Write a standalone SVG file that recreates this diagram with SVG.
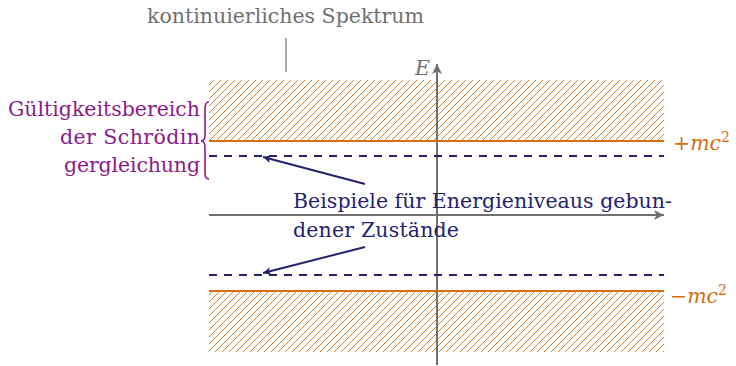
<svg xmlns="http://www.w3.org/2000/svg" width="736" height="366" viewBox="0 0 736 366">
<defs>
<style>
.t{font-family:"DejaVu Serif","Liberation Serif",serif;font-size:20.5px}
.gray{fill:#707070}
.pur{fill:#8b1a8b}
.navy{fill:#23236e}
.or{fill:#d4700f}
.ol{stroke:#d4700f;stroke-width:2;fill:none}
.dl{stroke:#23236e;stroke-width:2;stroke-dasharray:8 7;fill:none}
.ax{stroke:#707070;stroke-width:2;fill:none}
.ar{stroke:#23236e;stroke-width:2;fill:none}
</style>
<pattern id="hatch" patternUnits="userSpaceOnUse" width="7" height="7">
<path d="M-1,1 L1,-1 M0,7 L7,0 M6,8 L8,6" stroke="#d4700f" stroke-width="0.9"/>
</pattern>
<marker id="ah" markerWidth="10" markerHeight="10" refX="8" refY="5" orient="auto" markerUnits="userSpaceOnUse">
<path d="M0,1 L8,5 L0,9 L2,5 Z" fill="#23236e"/>
</marker>
<marker id="ahg" markerWidth="12" markerHeight="12" refX="10" refY="6" orient="auto" markerUnits="userSpaceOnUse">
<path d="M0,1 L10,6 L0,11 L2.5,6 Z" fill="#707070"/>
</marker>
</defs>
<g id="bands">
<rect x="209" y="80" width="455" height="61" fill="url(#hatch)"/>
<rect x="209" y="291" width="455" height="61" fill="url(#hatch)"/>
</g>
<g id="connectors">
<line class="ax" x1="437" y1="365" x2="437" y2="64" marker-end="url(#ahg)"/>
<line class="ax" x1="209" y1="215" x2="664" y2="215" marker-end="url(#ahg)"/>
<line class="ol" x1="209" y1="141" x2="664" y2="141"/>
<line class="ol" x1="209" y1="291" x2="664" y2="291"/>
<line class="dl" x1="209" y1="156" x2="664" y2="156"/>
<line class="dl" x1="209" y1="275" x2="664" y2="275"/>
<line class="ar" x1="365" y1="184" x2="263" y2="157" marker-end="url(#ah)"/>
<line class="ar" x1="365" y1="247" x2="263" y2="273" marker-end="url(#ah)"/>
<line x1="286" y1="38" x2="286" y2="72" stroke="#707070" stroke-width="1.2"/>
<path d="M209,102 Q205,102 205,108 L205,135 Q205,141 201,141 Q205,141 205,147 L205,173 Q205,179 209,179" fill="none" stroke="#8b1a8b" stroke-width="1.6"/>
</g>
<g id="spektrum">
<text class="t gray" x="147" y="23" textLength="277">kontinuierliches Spektrum</text>
</g>
<g id="E-label">
<text class="t gray" x="415" y="75" font-style="italic">E</text>
</g>
<g id="gueltigkeit">
<text class="t pur" x="200" y="116" text-anchor="end" textLength="192">Gültigkeitsbereich</text>
<text class="t pur" x="200" y="144" text-anchor="end" textLength="140">der Schrödin</text>
<text class="t pur" x="200" y="172" text-anchor="end" textLength="136">gergleichung</text>
</g>
<g id="plus-mc2">
<text class="t or" x="673" y="150" font-style="italic">+mc<tspan dy="-8" font-size="14" font-style="normal">2</tspan></text>
</g>
<g id="minus-mc2">
<text class="t or" x="670" y="303" font-style="italic">−mc<tspan dy="-8" font-size="14" font-style="normal">2</tspan></text>
</g>
<g id="beispiele">
<text class="t navy" x="293" y="208" textLength="379">Beispiele für Energieniveaus gebun-</text>
<text class="t navy" x="293" y="237" textLength="166">dener Zustände</text>
</g>
</svg>
